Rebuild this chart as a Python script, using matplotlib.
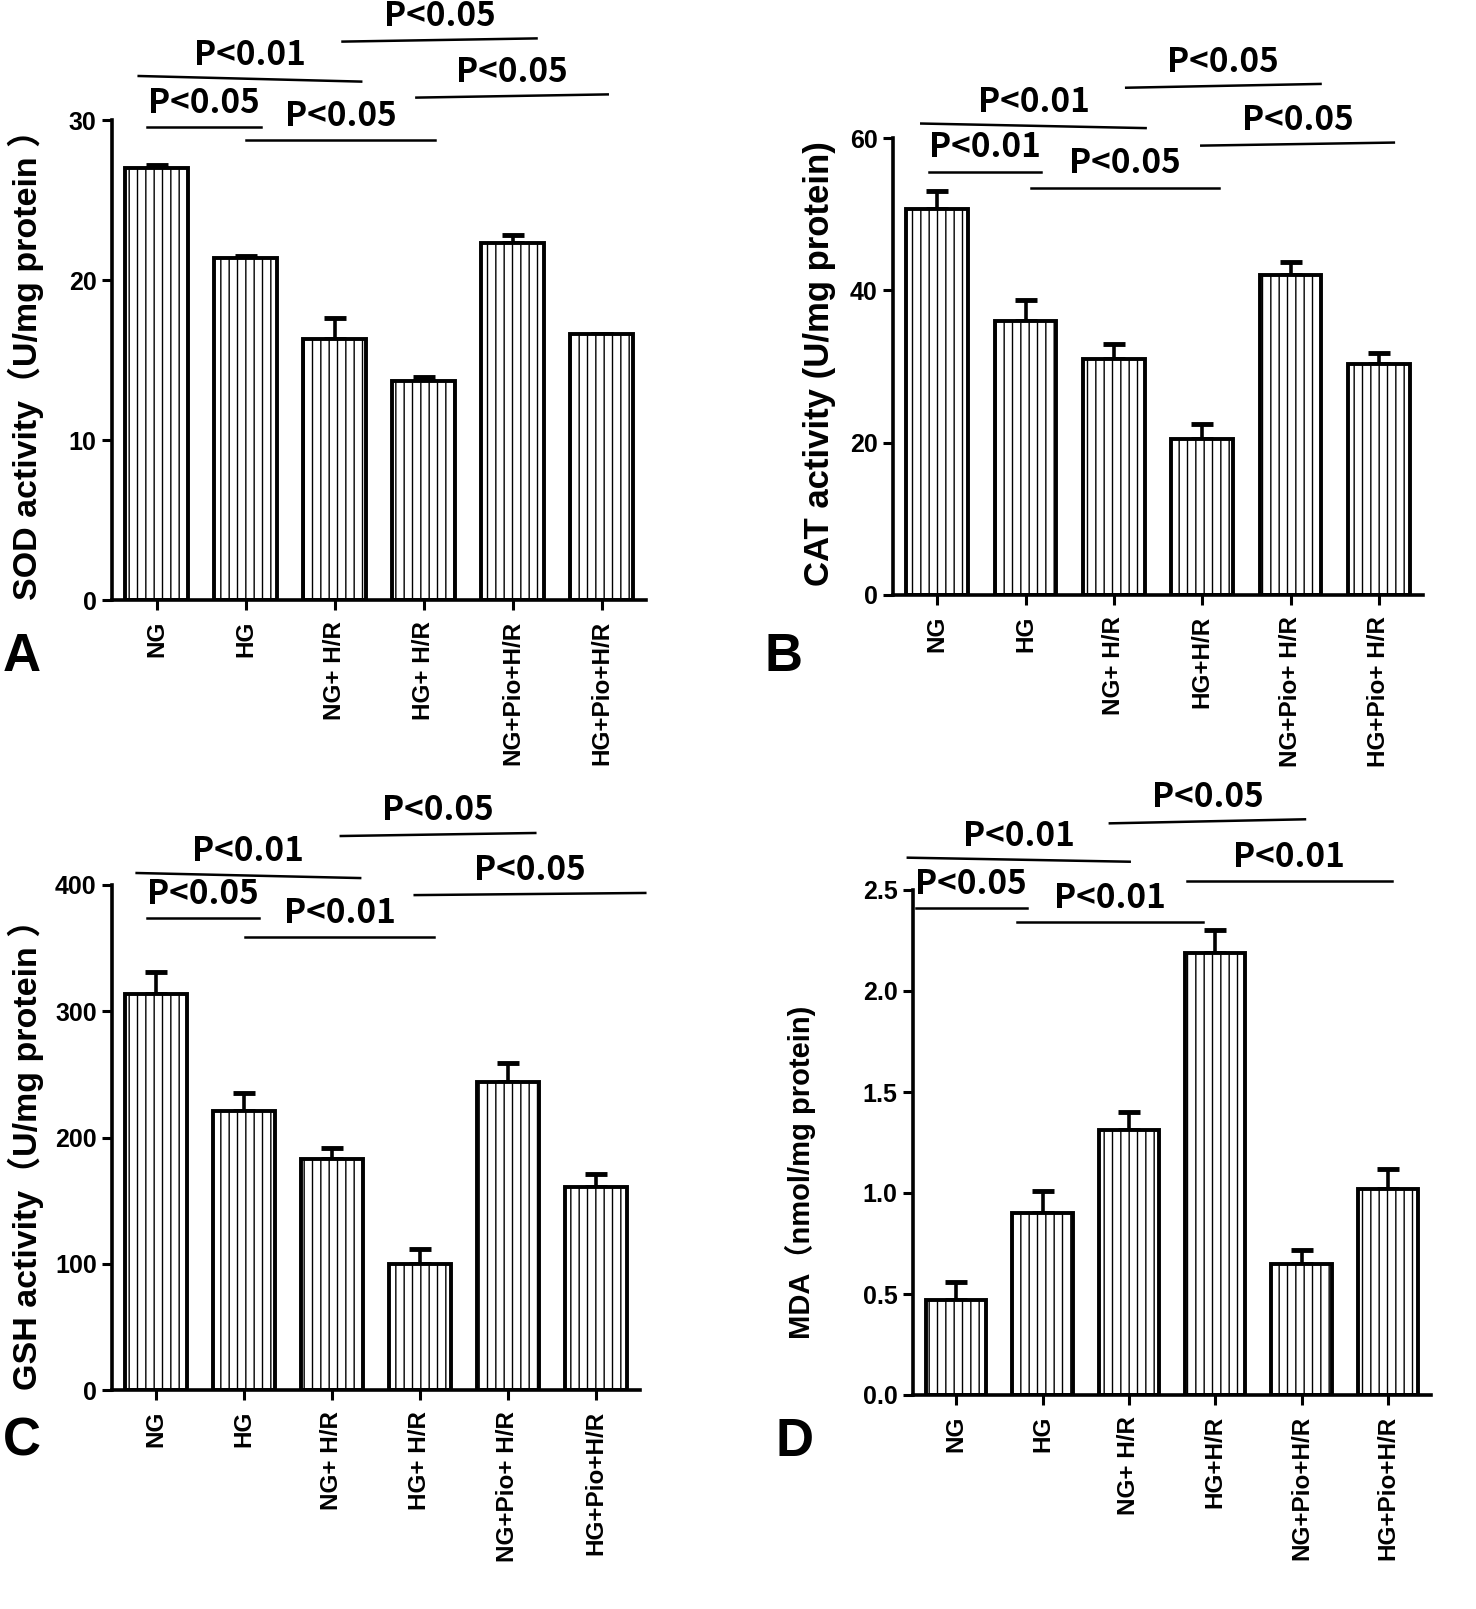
import numpy as np
import matplotlib
matplotlib.use("Agg")
import matplotlib.pyplot as plt

# ---- data -------------------------------------------------------------
labels_a = ["NG", "HG", "NG+ H/R", "HG+ H/R", "NG+Pio+H/R", "HG+Pio+H/R"]
labels_b = ["NG", "HG", "NG+ H/R", "HG+H/R", "NG+Pio+ H/R", "HG+Pio+ H/R"]
labels_c = ["NG", "HG", "NG+ H/R", "HG+ H/R", "NG+Pio+ H/R", "HG+Pio+H/R"]
labels_d = ["NG", "HG", "NG+ H/R", "HG+H/R", "NG+Pio+H/R", "HG+Pio+H/R"]

sod_mean = [27.0, 21.4, 16.3, 13.7, 22.3, 16.6]
sod_err = [0.2, 0.1, 1.3, 0.25, 0.5, 0.05]
cat_mean = [50.7, 36.0, 31.0, 20.5, 42.0, 30.3]
cat_err = [2.3, 2.7, 2.0, 2.0, 1.7, 1.5]
gsh_mean = [314, 221, 183, 100, 244, 161]
gsh_err = [17, 14, 9, 12, 15, 10]
mda_mean = [0.47, 0.90, 1.31, 2.19, 0.65, 1.02]
mda_err = [0.09, 0.11, 0.09, 0.11, 0.07, 0.10]

# significance lines: (x from, x to, y at start, y at end, label)
sig_a = [(-0.11, 1.17, 29.56, 29.56, "P<0.05"),
         (-0.20, 2.30, 32.75, 32.40, "P<0.01"),
         (1.01, 3.13, 28.75, 28.75, "P<0.05"),
         (2.09, 4.27, 34.90, 35.10, "P<0.05"),
         (2.92, 5.07, 31.40, 31.60, "P<0.05")]
sig_b = [(-0.09, 1.18, 55.6, 55.6, "P<0.01"),
         (-0.18, 2.36, 61.9, 61.3, "P<0.01"),
         (1.06, 3.19, 53.5, 53.5, "P<0.05"),
         (2.14, 4.34, 66.6, 67.1, "P<0.05"),
         (2.99, 5.17, 59.0, 59.4, "P<0.05")]
sig_c = [(-0.10, 1.17, 373.9, 373.9, "P<0.05"),
         (-0.22, 2.32, 409.5, 405.5, "P<0.01"),
         (1.01, 3.16, 358.8, 358.8, "P<0.01"),
         (2.10, 4.31, 438.8, 441.2, "P<0.05"),
         (2.94, 5.56, 392.0, 393.7, "P<0.05")]
sig_d = [(-0.47, 0.82, 2.41, 2.41, "P<0.05"),
         (-0.56, 2.01, 2.66, 2.64, "P<0.01"),
         (0.71, 2.86, 2.34, 2.34, "P<0.01"),
         (1.78, 4.04, 2.83, 2.85, "P<0.05"),
         (2.67, 5.05, 2.545, 2.545, "P<0.01")]

W, H = 1476, 1609
CJK = ["Noto Sans CJK SC", "DejaVu Sans"]
ARIAL = ["Liberation Sans", "Noto Sans CJK SC", "DejaVu Sans"]
plt.rcParams["hatch.linewidth"] = 1.0

fig = plt.figure(figsize=(W / 100, H / 100), dpi=100)


def px_axes(left, right, top, bottom):
    return fig.add_axes([left / W, 1 - bottom / H, (right - left) / W, (bottom - top) / H])


def panel(box, means, errs, labels, ymax, yticks, ytl, ylabel, ylab_size, sigs,
          letter, letter_xy, ylab_xy):
    ax = px_axes(*box)
    x = np.arange(len(means))
    ax.bar(x, means, width=0.7, color="white", edgecolor="black", linewidth=2.8,
           hatch="||", zorder=2)
    ax.errorbar(x, means, yerr=[np.zeros(len(errs)), errs], fmt="none", ecolor="black",
                elinewidth=2.6, capsize=8, capthick=3.5, zorder=1)
    ax.set_xlim(-0.5, 5.5)
    ax.set_ylim(0, ymax)
    for s in ("top", "right"):
        ax.spines[s].set_visible(False)
    for s in ("left", "bottom"):
        ax.spines[s].set_linewidth(2.6)
    ax.set_yticks(yticks)
    ax.set_yticklabels(ytl, family=ARIAL, fontweight="bold", fontsize=18)
    ax.set_xticks(x)
    ax.set_xticklabels(labels, rotation=90, family=ARIAL, fontweight="bold", fontsize=17.5,
                       va="top", ha="center")
    ax.tick_params(axis="both", length=7, width=2.2, direction="out", pad=4)
    ax.tick_params(axis="x", pad=8)
    for x0, x1, y0, y1, txt in sigs:
        ax.plot([x0, x1], [y0, y1], color="black", lw=1.8, clip_on=False)
        ax.annotate(txt, xy=((x0 + x1) / 2, (y0 + y1) / 2), xytext=(0, 17),
                    textcoords="offset points", ha="center", va="center",
                    family=CJK, fontweight="bold", fontsize=24, annotation_clip=False)
    fig.text(ylab_xy[0] / W, 1 - ylab_xy[1] / H, ylabel, rotation=90, ha="center",
             va="center", family=ARIAL, fontweight="bold", fontsize=ylab_size)
    fig.text(letter_xy[0] / W, 1 - letter_xy[1] / H, letter, ha="center", va="center",
             family=ARIAL, fontweight="bold", fontsize=38)
    return ax


panel((112, 646, 120, 600), sod_mean, sod_err, labels_a, 30, [0, 10, 20, 30],
      ["0", "10", "20", "30"], "SOD activity（U/mg protein ）", 24.5, sig_a,
      "A", (22, 657), (26, 356))
panel((893, 1423, 138, 595), cat_mean, cat_err, labels_b, 60, [0, 20, 40, 60],
      ["0", "20", "40", "60"], "CAT activity (U/mg protein)", 25, sig_b,
      "B", (783, 657), (820, 364))
panel((112, 640, 885, 1390), gsh_mean, gsh_err, labels_c, 400, [0, 100, 200, 300, 400],
      ["0", "100", "200", "300", "400"], "GSH activity（U/mg protein ）", 24.5, sig_c,
      "C", (22, 1442), (26, 1146))
panel((913, 1431, 890, 1395), mda_mean, mda_err, labels_d, 2.5, [0, 0.5, 1.0, 1.5, 2.0, 2.5],
      ["0.0", "0.5", "1.0", "1.5", "2.0", "2.5"], "MDA（nmol/mg protein)", 21, sig_d,
      "D", (795, 1442), (800, 1172))

fig.savefig("out.png", dpi=100, facecolor="white")
